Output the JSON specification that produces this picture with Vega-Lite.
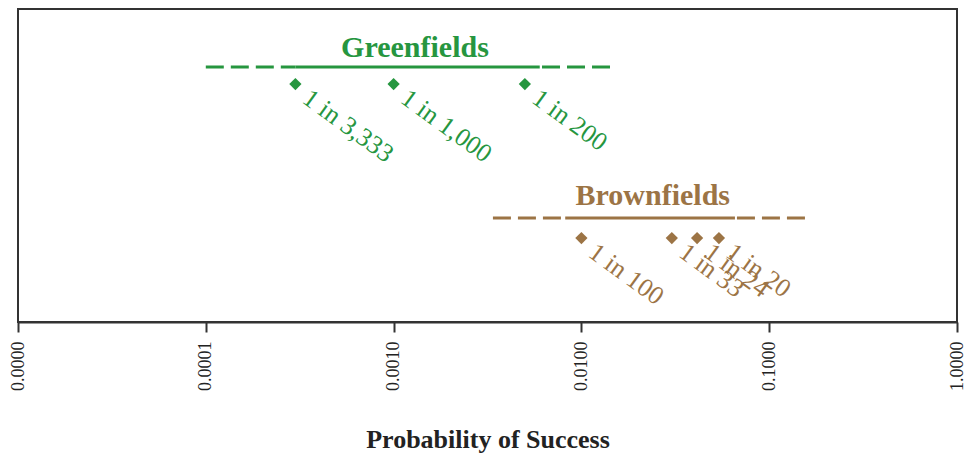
{
  "$schema": "https://vega.github.io/schema/vega-lite/v6.json",
  "width": 939,
  "height": 313,
  "autosize": "none",
  "padding": {"left": 18, "top": 9, "right": 11, "bottom": 133},
  "background": "white",
  "config": {
    "view": {"stroke": "#333333", "strokeWidth": 2},
    "font": "Liberation Serif"
  },
  "datasets": {
    "ranges": [
      {"group": "Greenfields", "style": "dashed", "from": 0.0001, "to": 0.0003, "y": 81.5},
      {"group": "Greenfields", "style": "solid", "from": 0.0003, "to": 0.006, "y": 81.5},
      {"group": "Greenfields", "style": "dashed", "from": 0.0142, "to": 0.006, "y": 81.5},
      {"group": "Brownfields", "style": "dashed", "from": 0.00338, "to": 0.0082, "y": 33.2},
      {"group": "Brownfields", "style": "solid", "from": 0.0082, "to": 0.0657, "y": 33.2},
      {"group": "Brownfields", "style": "dashed", "from": 0.155, "to": 0.0657, "y": 33.2}
    ],
    "points": [
      {"group": "Greenfields", "p": 0.0003, "label": "1 in 3,333", "y": 76.0},
      {"group": "Greenfields", "p": 0.001, "label": "1 in 1,000", "y": 76.0},
      {"group": "Greenfields", "p": 0.005, "label": "1 in 200", "y": 76.0},
      {"group": "Brownfields", "p": 0.01, "label": "1 in 100", "y": 26.8},
      {"group": "Brownfields", "p": 0.0303, "label": "1 in 33", "y": 26.8},
      {"group": "Brownfields", "p": 0.0413, "label": "1 in 24", "y": 26.8},
      {"group": "Brownfields", "p": 0.054, "label": "1 in 20", "y": 26.8}
    ],
    "titles": [
      {"group": "Greenfields", "p": 0.0013, "y": 87.5},
      {"group": "Brownfields", "p": 0.024, "y": 40.3}
    ]
  },
  "encoding": {
    "y": {"field": "y", "type": "quantitative", "scale": {"domain": [0, 100]}, "axis": null},
    "color": {
      "field": "group", "type": "nominal",
      "scale": {"domain": ["Greenfields", "Brownfields"], "range": ["#26963f", "#9c7445"]},
      "legend": null
    }
  },
  "layer": [
    {
      "data": {"name": "ranges"},
      "transform": [{"filter": "datum.style === 'dashed'"}],
      "mark": {"type": "rule", "strokeWidth": 3, "strokeDash": [18, 7]},
      "encoding": {
        "x": {
          "field": "from", "type": "quantitative",
          "scale": {"type": "log", "domain": [0.00001, 1], "nice": false},
          "axis": {
            "values": [0.00001, 0.0001, 0.001, 0.01, 0.1, 1],
            "format": ".4f",
            "title": "Probability of Success",
            "grid": false,
            "domainColor": "#333333",
            "domainWidth": 2,
            "tickColor": "#333333",
            "tickWidth": 2,
            "tickSize": 10,
            "labelAngle": 270,
            "labelAlign": "right",
            "labelBaseline": "middle",
            "labelPadding": 9,
            "labelFont": "Liberation Serif",
            "labelFontSize": 18,
            "labelColor": "#222222",
            "labelFlush": false,
            "labelOverlap": false,
            "titleFont": "Liberation Serif",
            "titleFontSize": 26,
            "titleFontWeight": "bold",
            "titleColor": "#222222",
            "titlePadding": 36
          }
        },
        "x2": {"field": "to"}
      }
    },
    {
      "data": {"name": "ranges"},
      "transform": [{"filter": "datum.style === 'solid'"}],
      "mark": {"type": "rule", "strokeWidth": 3},
      "encoding": {
        "x": {"field": "from", "type": "quantitative"},
        "x2": {"field": "to"}
      }
    },
    {
      "data": {"name": "points"},
      "mark": {"type": "point", "shape": "diamond", "filled": true, "size": 150, "opacity": 1},
      "encoding": {
        "x": {"field": "p", "type": "quantitative"}
      }
    },
    {
      "data": {"name": "points"},
      "mark": {"type": "text", "angle": 36, "align": "left", "baseline": "middle", "dx": 15, "dy": 3, "fontSize": 26, "font": "Liberation Serif"},
      "encoding": {
        "x": {"field": "p", "type": "quantitative"},
        "text": {"field": "label"}
      }
    },
    {
      "data": {"name": "titles"},
      "mark": {"type": "text", "align": "center", "baseline": "middle", "fontSize": 30, "fontWeight": "bold", "font": "Liberation Serif"},
      "encoding": {
        "x": {"field": "p", "type": "quantitative"},
        "text": {"field": "group"}
      }
    }
  ]
}
